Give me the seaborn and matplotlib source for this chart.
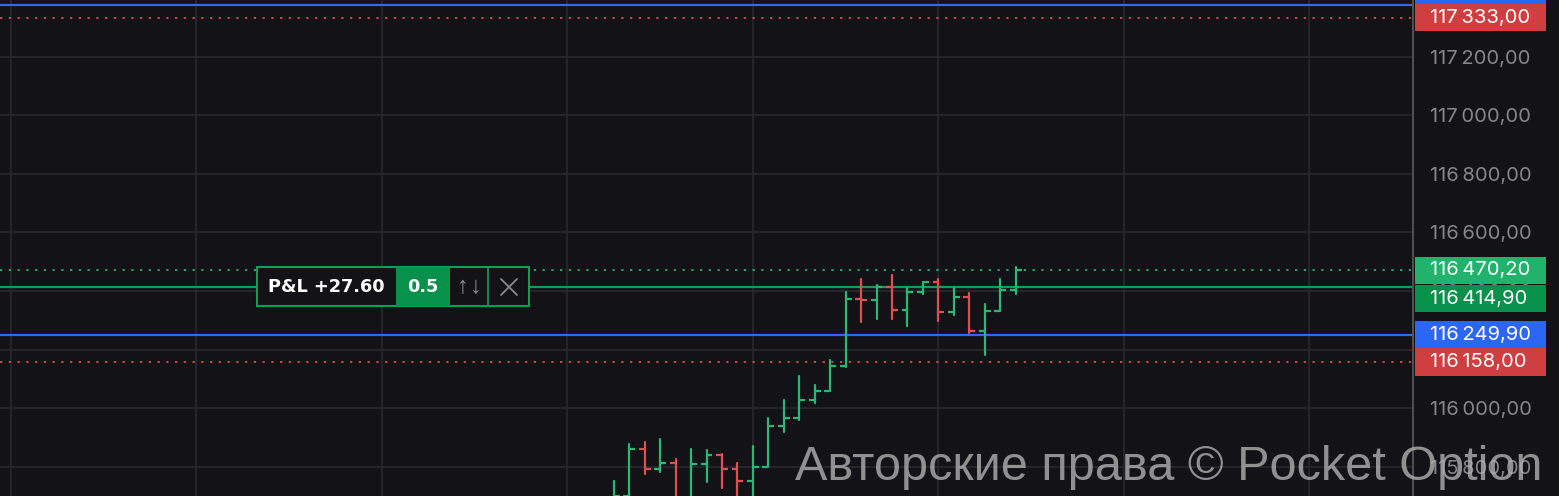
import matplotlib
matplotlib.use("Agg")
import matplotlib.pyplot as plt
import matplotlib.transforms as mtransforms
from matplotlib.patches import Rectangle
from matplotlib.lines import Line2D
import pandas as pd
import seaborn as sns

# OHLC bars (oldest -> newest)
opens = [115660, 115700, 115860, 115792, 115812, 115690, 115810, 115840, 115792,
         115752, 115800, 115938, 115967, 116027, 116059, 116144, 116373, 116370,
         116414, 116336, 116396, 116432, 116328, 116378, 116263, 116331, 116404]
highs = [115751, 115876, 115883, 115894, 115825, 115862, 115857, 115842, 115814,
         115870, 115965, 116027, 116109, 116078, 116164, 116398, 116439, 116419,
         116455, 116410, 116432, 116439, 116410, 116394, 116354, 116439, 116481]
lows = [115640, 115680, 115774, 115782, 115660, 115670, 115748, 115729, 115690,
        115700, 115800, 115919, 115959, 116016, 116059, 116142, 116294, 116303,
        116305, 116279, 116388, 116299, 116318, 116257, 116180, 116331, 116390]
closes = [115700, 115860, 115792, 115812, 115690, 115810, 115840, 115792, 115752,
          115800, 115938, 115967, 116027, 116059, 116144, 116373, 116370, 116414,
          116336, 116396, 116432, 116328, 116378, 116263, 116331, 116404, 116470.2]

# horizontal levels
level_prices = [117375.0, 117333.0, 116470.2, 116414.9, 116249.9, 116158.0]
level_kinds = ["blue", "red", "price", "open", "blue", "red"]

y_ticks = [115800, 116000, 116200, 116400, 116600, 116800, 117000, 117200]

pnl_text = "P&L +27.60"
lot_text = "0.5"
watermark = "Авторские права © Pocket Option"

BG = "#121217"
GREEN = "#2bb673"
RED = "#e04f4f"
line_colors = {"blue": "#3466f2", "red": "#c94545", "price": "#2a9f6c", "open": "#139c55"}
line_styles = {"blue": "-", "red": (0, (1.2, 3.3)), "price": (0, (1.2, 3.3)), "open": "-"}
line_widths = {"blue": 1.6, "red": 1.4, "price": 1.4, "open": 1.6}
box_colors = {"blue": "#2b66f6", "red": "#cf3e40", "price": "#22b26b", "open": "#08914a"}

W, H = 1559, 496
YMIN, YMAX = 115700, 117393

sns.set_theme(style="dark")
plt.rcParams['font.family'] = ['Inter', 'DejaVu Sans']

fig = plt.figure(figsize=(W / 100, H / 100), dpi=100)
fig.patch.set_facecolor(BG)
ax = fig.add_axes([0, 0, 1413 / W, 1])
ax.set_facecolor(BG)

# wicks through seaborn (one unit per bar)
rows = []
for i in range(len(opens)):
    d = "up" if closes[i] >= opens[i] else "down"
    rows.append({"x": i, "y": lows[i], "bar": i, "dir": d})
    rows.append({"x": i, "y": highs[i], "bar": i, "dir": d})
df = pd.DataFrame(rows)
sns.lineplot(data=df, x="x", y="y", units="bar", hue="dir", estimator=None,
             palette={"up": GREEN, "down": RED}, lw=1.6, legend=False, ax=ax,
             sort=False, zorder=3)

idx = list(range(len(opens)))
cols = [GREEN if c >= o else RED for o, c in zip(opens, closes)]
ax.hlines(opens, [i - 0.38 for i in idx], idx, colors=cols, lw=1.6, zorder=3)
ax.hlines(closes, idx, [i + 0.38 for i in idx], colors=cols, lw=1.6, zorder=3)

for p, k in zip(level_prices, level_kinds):
    ax.axhline(p, color=line_colors[k], ls=line_styles[k], lw=line_widths[k], zorder=2)

ax.set_xlim(-39.7, 51.7)
ax.set_ylim(YMIN, YMAX)
ax.set_xticks([-39, -27, -15, -3, 9, 21, 33, 45])
ax.set_xticklabels([])
ax.set_yticks(y_ticks)


def fmt(v):
    s = f"{v:,.2f}"
    return s.replace(",", "\u202f").replace(".", ",")


ax.set_yticklabels([fmt(v) for v in y_ticks])
ax.yaxis.tick_right()
ax.tick_params(axis="y", length=0, pad=12, labelsize=14.5, labelcolor="#85858b")
ax.tick_params(axis="x", length=0)
ax.grid(True, color="#27272d", lw=1.3)
ax.set_xlabel("")
ax.set_ylabel("")
for s in ["top", "left", "bottom"]:
    ax.spines[s].set_visible(False)
ax.spines["right"].set_color("#55555b")
ax.spines["right"].set_linewidth(1.3)

# price labels on the right scale
tr = mtransforms.blended_transform_factory(fig.transFigure, ax.transData)
upp = (YMAX - YMIN) / H  # price units per pixel
box_h = 27.5 * upp
nudge = {116414.9: -12 * upp, 117375.0: 14 * upp}
for p, k in zip(level_prices, level_kinds):
    yc = p + nudge.get(p, 0)
    fig.add_artist(Rectangle((1415 / W, yc - box_h / 2), 131 / W, box_h,
                             transform=tr, facecolor=box_colors[k], edgecolor="none",
                             zorder=5))
    if yc + box_h / 2 < YMAX:
        fig.add_artist(plt.Text(1430 / W, yc, fmt(p), transform=tr, color="white",
                                fontsize=14.5, va="center", ha="left", zorder=6,
                                family=['Inter', 'DejaVu Sans']))


# P&L widget on the open line
def fx(x):
    return x / W


def fy(y):
    return 1 - y / H


top, bot = 267, 306
fig.add_artist(Rectangle((fx(257), fy(bot)), fx(529 - 257), (bot - top) / H,
                         transform=fig.transFigure, facecolor=BG, edgecolor="#139c55",
                         lw=1.5, zorder=5))
fig.add_artist(Rectangle((fx(396), fy(bot)), fx(450 - 396), (bot - top) / H,
                         transform=fig.transFigure, facecolor="#08914a", edgecolor="none",
                         zorder=6))
fig.add_artist(Line2D([fx(488), fx(488)], [fy(bot), fy(top)], transform=fig.transFigure,
                      color="#139c55", lw=1.2, zorder=6))
ymid = fy((top + bot) / 2)
fig.text(fx(268), ymid, pnl_text, color="white", fontsize=12.8, fontweight="bold",
         family="DejaVu Sans", va="center", ha="left", zorder=7)
fig.text(fx(423), ymid, lot_text, color="white", fontsize=12.8, fontweight="bold",
         family="DejaVu Sans", va="center", ha="center", zorder=7)
fig.text(fx(463), ymid, "↑", color="#8a8a90", fontsize=17,
         family=["Liberation Sans", "DejaVu Sans"], va="center", ha="center", zorder=7)
fig.text(fx(476), ymid, "↓", color="#8a8a90", fontsize=17,
         family=["Liberation Sans", "DejaVu Sans"], va="center", ha="center", zorder=7)
for xa, xb in [(501, 517), (517, 501)]:
    fig.add_artist(Line2D([fx(xa), fx(xb)], [fy(279), fy(295)], transform=fig.transFigure,
                          color="#8a8a90", lw=1.3, zorder=7))

# watermark
fig.text(fx(795), fy(480), watermark, fontsize=35, family="Liberation Sans",
         color="#b4b4b4", alpha=0.78, va="baseline", ha="left", zorder=10)

plt.savefig("out.png", dpi=100, facecolor=BG)
